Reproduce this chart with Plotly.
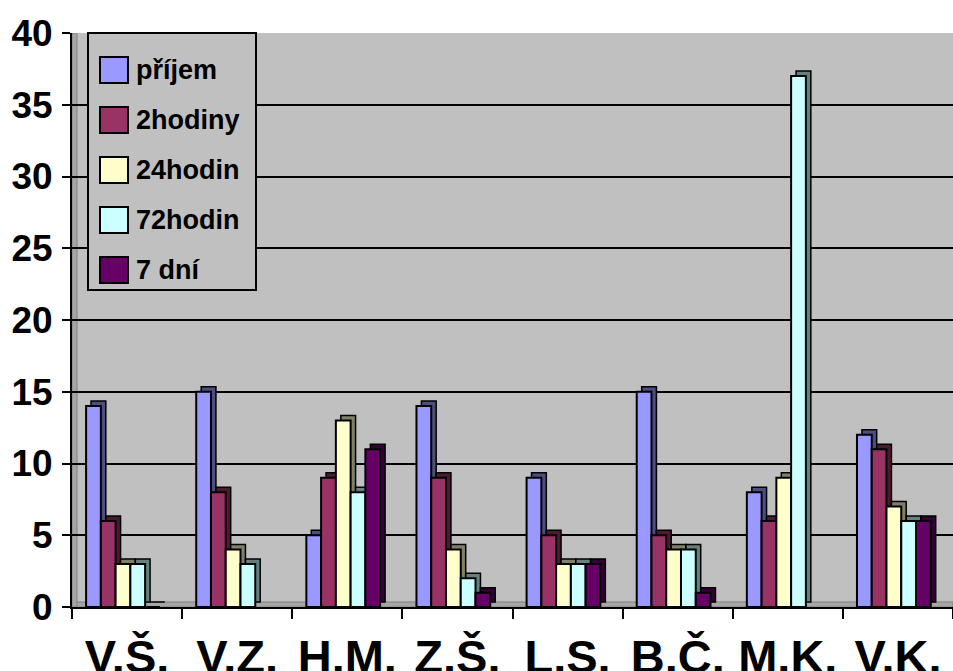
import plotly.graph_objects as go

# Categories and series values
categories = ["V.Š.", "V.Z.", "H.M.", "Z.Š.", "L.S.", "B.Č.", "M.K.", "V.K."]
series_names = ["příjem", "2hodiny", "24hodin", "72hodin", "7 dní"]
prijem = [14, 15, 5, 14, 9, 15, 8, 12]
hodiny_2 = [6, 8, 9, 9, 5, 5, 6, 11]
hodin_24 = [3, 4, 13, 4, 3, 4, 9, 7]
hodin_72 = [3, 3, 8, 2, 3, 4, 37, 6]
dni_7 = [0, None, 11, 1, 3, 1, None, 6]
y_ticks = [0, 5, 10, 15, 20, 25, 30, 35, 40]

series_values = [prijem, hodiny_2, hodin_24, hodin_72, dni_7]
front_colors = ["#9999FF", "#993366", "#FFFFCC", "#CCFFFF", "#660066"]
side_colors = ["#4D4D80", "#4D1A33", "#808066", "#668080", "#330033"]

# Geometry of the pseudo-3D bars (category units / value units)
BAR_W = 0.134
FIRST_OFF = -0.372
DX = 0.045
DY = 0.35

FONT = "Liberation Sans, Arial, sans-serif"

fig = go.Figure()

# Depth faces first, drawn as darker boxes shifted up and to the right
for i, vals in enumerate(series_values):
    fig.add_trace(go.Bar(
        x=categories, y=vals, base=DY,
        offset=FIRST_OFF + i * BAR_W + DX, width=BAR_W,
        marker=dict(color=side_colors[i], line=dict(color="black", width=1.5)),
        showlegend=False, hoverinfo="skip",
    ))

# Front faces
for i, vals in enumerate(series_values):
    fig.add_trace(go.Bar(
        x=categories, y=vals, name=series_names[i],
        offset=FIRST_OFF + i * BAR_W, width=BAR_W,
        marker=dict(color=front_colors[i], line=dict(color="black", width=2)),
        showlegend=False,
    ))

# Pixel-to-paper helpers for the hand-built legend box
L, T, PW, PH = 72, 33, 881, 574


def px(xp):
    return (xp - L) / PW


def py(yp):
    return (T + PH - yp) / PH


shapes = [
    # floor and left wall of the chart box
    dict(type="rect", xref="paper", yref="y", x0=0, x1=1, y0=0, y1=DY,
         fillcolor="#A6A6A6", line=dict(color="#808080", width=1), layer="below"),
    dict(type="rect", xref="x", yref="y", x0=-0.5, x1=-0.5 + DX, y0=0, y1=40,
         fillcolor="#A6A6A6", line=dict(color="#808080", width=1), layer="below"),
    # legend frame
    dict(type="rect", xref="paper", yref="paper", x0=px(88), x1=px(256), y0=py(290), y1=py(33),
         fillcolor="#C0C0C0", line=dict(color="black", width=2), layer="above"),
]
annotations = []
for i, name in enumerate(series_names):
    cy = 70 + 50 * i
    shapes.append(dict(type="rect", xref="paper", yref="paper",
                       x0=px(100), x1=px(128), y0=py(cy + 13), y1=py(cy - 13),
                       fillcolor=front_colors[i], line=dict(color="black", width=2),
                       layer="above"))
    annotations.append(dict(xref="paper", yref="paper", x=px(134), y=py(cy),
                            xanchor="left", yanchor="middle", text=name, showarrow=False,
                            font=dict(family=FONT, size=27, color="black", weight="bold")))

fig.update_layout(
    width=953, height=671,
    margin=dict(l=L, r=0, t=T, b=671 - T - PH, autoexpand=False),
    paper_bgcolor="white", plot_bgcolor="#C0C0C0",
    barmode="overlay", showlegend=False,
    shapes=shapes, annotations=annotations,
    xaxis=dict(
        type="category", range=[-0.5, 7.5], automargin=False,
        showline=True, linecolor="black", linewidth=2,
        ticks="outside", tickson="boundaries", ticklen=10, tickwidth=2, tickcolor="black",
        ticklabelstandoff=8,
        showgrid=False,
        tickfont=dict(family=FONT, size=47, color="black", weight="bold"),
    ),
    yaxis=dict(
        range=[0, 40], tickvals=y_ticks, automargin=False,
        showline=True, linecolor="black", linewidth=2,
        ticks="outside", ticklen=8, tickwidth=2, tickcolor="black",
        ticklabelstandoff=2,
        showgrid=True, gridcolor="black", gridwidth=2, zeroline=False,
        tickfont=dict(family=FONT, size=37, color="black", weight="bold"),
    ),
)

fig.write_html("out.html")
